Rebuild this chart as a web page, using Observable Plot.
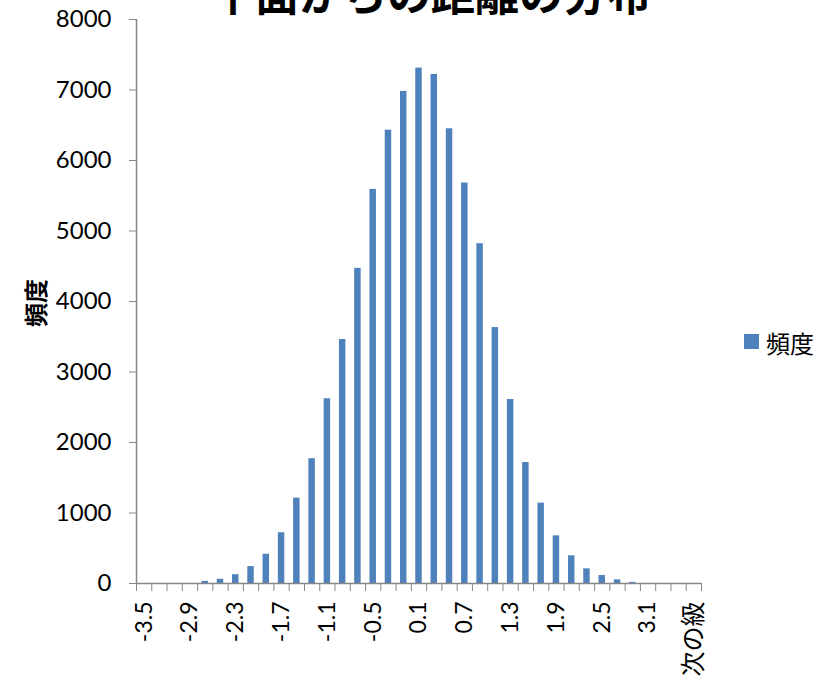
<!DOCTYPE html>
<html>
<head>
<meta charset="utf-8">
<script src="https://cdn.jsdelivr.net/npm/d3@7"></script>
<script src="https://cdn.jsdelivr.net/npm/@observablehq/plot@0.6"></script>
<style>
  html, body { margin: 0; padding: 0; background: #fff; }
  #chart { width: 831px; height: 678px; overflow: hidden; }
</style>
</head>
<body>
<div id="chart"></div>
<script>
// Bin labels (Excel histogram classes) and frequencies
const categories = ["-3.5","-3.3","-3.1","-2.9","-2.7","-2.5","-2.3","-2.1","-1.9","-1.7",
  "-1.5","-1.3","-1.1","-0.9","-0.7","-0.5","-0.3","-0.1","0.1","0.3",
  "0.5","0.7","0.9","1.1","1.3","1.5","1.7","1.9","2.1","2.3",
  "2.5","2.7","2.9","3.1","3.3","3.5","次の級"];
const counts = [0,0,0,0,30,60,125,240,415,720,
  1210,1770,2620,3460,4470,5590,6430,6980,7310,7220,
  6450,5680,4820,3630,2610,1716,1140,676,393,208,
  113,52,15,0,0,0,0];
const yTicks = [0,1000,2000,3000,4000,5000,6000,7000,8000];
const titleText = "平面からの距離の分布";
const yLabel = "頻度";
const seriesName = "頻度";

const barColor = "#4f81bd";
const axisColor = "#868686";
const fontFam = "Lato, 'Noto Sans CJK JP', sans-serif";

const data = categories.map((c, i) => ({i, c, v: counts[i]}));
const labeled = data.filter(d => d.i % 3 === 0);
const isCJK = s => /[^\x00-\x7f]/.test(s);

const svg = Plot.plot({
  width: 831,
  height: 678,
  marginLeft: 136,
  marginRight: 130,
  marginTop: 19,
  marginBottom: 95,
  style: {fontFamily: fontFam, fontSize: "22px", color: "#000", background: "transparent"},
  x: {domain: [0, categories.length], axis: null},
  y: {domain: [0, 8000], axis: null},
  marks: [
    Plot.rectY(data, {x1: "i", x2: d => d.i + 1, y1: 0, y2: "v", fill: barColor, insetLeft: 4.4, insetRight: 4.4}),
    Plot.axisY({ticks: yTicks, tickSize: 7, tickPadding: 18, tickFormat: d => String(d), stroke: axisColor, label: null, fontSize: 24, fill: "#000"}),
    Plot.axisX({ticks: d3.range(categories.length + 1), tickSize: 8, tickFormat: () => "", stroke: axisColor, label: null}),
    Plot.ruleX([0], {stroke: axisColor, strokeWidth: 1.5}),
    Plot.ruleY([0], {stroke: axisColor, strokeWidth: 1.5}),
    Plot.text(labeled, {x: d => d.i + 0.5, text: "c", frameAnchor: "bottom", rotate: -90,
      textAnchor: "end", lineAnchor: "middle", dy: 18,
      fontSize: d => isCJK(d.c) ? 25 : 23, fill: "#000"})
  ]
});

const s = d3.select(svg);
s.append("text")
  .attr("x", 431).attr("y", 11)
  .attr("text-anchor", "middle")
  .attr("font-family", "'Noto Sans CJK JP', sans-serif")
  .attr("font-weight", "bold")
  .attr("font-size", 44)
  .attr("fill", "#000")
  .text(titleText);
s.append("text")
  .attr("transform", "translate(34,303) rotate(-90)")
  .attr("text-anchor", "middle")
  .attr("dominant-baseline", "central")
  .attr("font-family", "'Noto Sans CJK JP', sans-serif")
  .attr("font-weight", "bold")
  .attr("font-size", 24)
  .attr("fill", "#000")
  .text(yLabel);
s.append("rect")
  .attr("x", 744).attr("y", 334).attr("width", 15).attr("height", 15)
  .attr("fill", barColor);
s.append("text")
  .attr("x", 766).attr("y", 342)
  .attr("text-anchor", "start")
  .attr("dominant-baseline", "central")
  .attr("font-family", "'Noto Sans CJK JP', sans-serif")
  .attr("font-size", 24)
  .attr("fill", "#000")
  .text(seriesName);

document.getElementById("chart").appendChild(svg);
</script>
</body>
</html>
